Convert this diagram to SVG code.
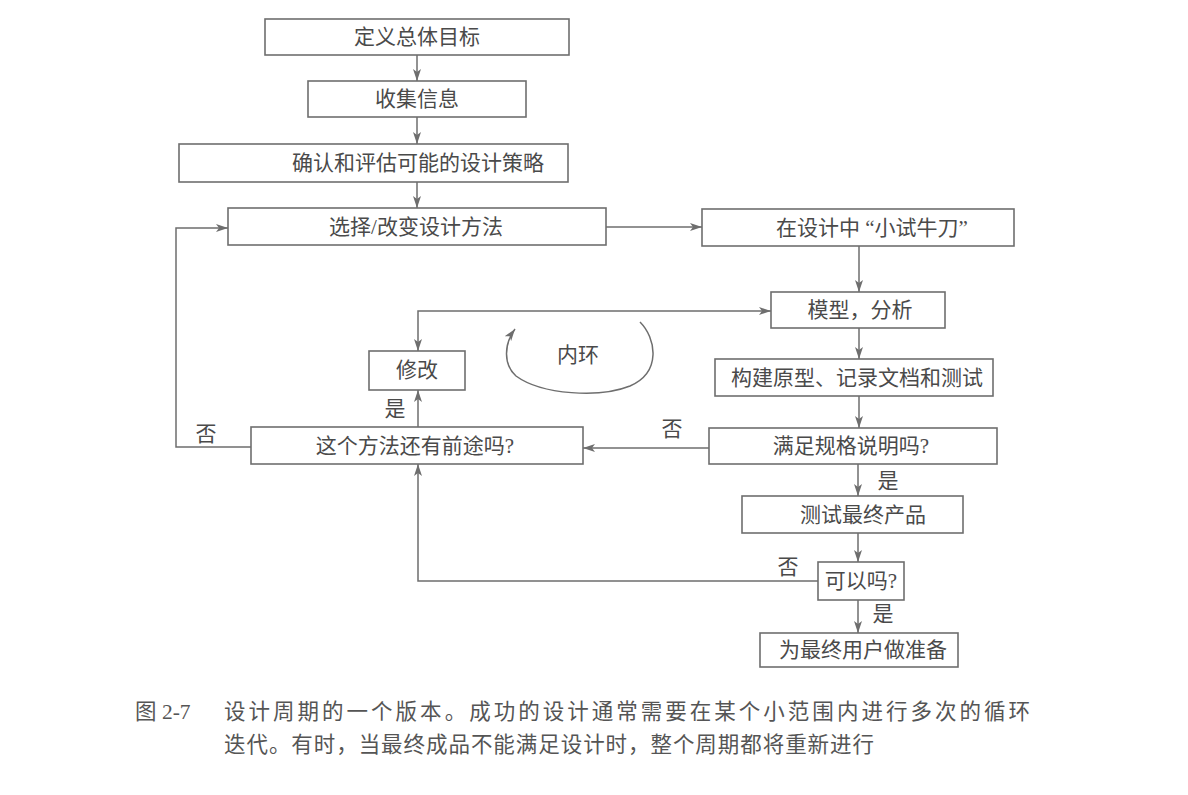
<svg xmlns="http://www.w3.org/2000/svg" width="1188" height="795" viewBox="0 0 1188 795">
<style>
.box{fill:#fff;stroke:#6e6e6e;stroke-width:1.6}
.t{font-family:"Liberation Serif","Noto Sans CJK SC",serif;font-size:21px;fill:#4a4a4a;text-anchor:middle;dominant-baseline:central}
.l{font-family:"Liberation Serif","Noto Sans CJK SC",serif;font-size:21px;fill:#4a4a4a;text-anchor:middle;dominant-baseline:central}
.cap{font-family:"Liberation Serif","Noto Sans CJK SC",serif;font-size:21.5px;fill:#555}
.c{fill:none;stroke:#6e6e6e;stroke-width:1.5}
</style>
<defs>
<marker id="ah" viewBox="0 0 12 8" refX="12" refY="4" markerWidth="12" markerHeight="8" markerUnits="userSpaceOnUse" orient="auto-start-reverse">
<path d="M0,0 L12,4 L0,8 L3,4 z" fill="#6e6e6e"/>
</marker>
</defs>
<rect width="1188" height="795" fill="#fff"/>
<g id="connectors">
<path class="c" d="M417,55 L417,81" marker-end="url(#ah)"/>
<path class="c" d="M417,117 L417,144" marker-end="url(#ah)"/>
<path class="c" d="M417,182 L417,208" marker-end="url(#ah)"/>
<path class="c" d="M606,227 L702,227" marker-end="url(#ah)"/>
<path class="c" d="M859,246 L859,292" marker-end="url(#ah)"/>
<path class="c" d="M859,328 L859,359" marker-end="url(#ah)"/>
<path class="c" d="M859,396 L859,428" marker-end="url(#ah)"/>
<path class="c" d="M709,448 L583,448" marker-end="url(#ah)"/>
<path class="c" d="M858,464 L858,496" marker-end="url(#ah)"/>
<path class="c" d="M858,533 L858,562" marker-end="url(#ah)"/>
<path class="c" d="M858,600 L858,633" marker-end="url(#ah)"/>
<path class="c" d="M818,581 L418,581 L418,464" marker-end="url(#ah)"/>
<path class="c" d="M418,427 L418,390" marker-end="url(#ah)"/>
<path class="c" d="M418,351 L418,311 L771,311" marker-start="url(#ah)" marker-end="url(#ah)"/>
<path class="c" d="M251,447 L176,447 L176,228 L228,228" marker-end="url(#ah)"/>
<path class="c" d="M640,322 C656,338 662,372 630,386 C600,398 542,395 516,376 C503,364 504,344 515,329" marker-end="url(#ah)"/>
</g>
<g id="n1"><rect class="box" x="265" y="19" width="304" height="36"/><text class="t" x="417" y="37">定义总体目标</text></g>
<g id="n2"><rect class="box" x="308" y="81" width="218" height="36"/><text class="t" x="417" y="99">收集信息</text></g>
<g id="n3"><rect class="box" x="179" y="144" width="389" height="38"/><text class="t" x="418" y="163">确认和评估可能的设计策略</text></g>
<g id="n4"><rect class="box" x="228" y="208" width="378" height="37"/><text class="t" x="416" y="227">选择/改变设计方法</text></g>
<g id="n5"><rect class="box" x="702" y="209" width="312" height="37"/><text class="t" x="872" y="228">在设计中 “小试牛刀”</text></g>
<g id="n6"><rect class="box" x="771" y="292" width="174" height="36"/><text class="t" x="860" y="310">模型，分析</text></g>
<g id="n7"><rect class="box" x="715" y="359" width="278" height="37"/><text class="t" x="857" y="378">构建原型、记录文档和测试</text></g>
<g id="n8"><rect class="box" x="709" y="428" width="288" height="36"/><text class="t" x="851" y="446">满足规格说明吗?</text></g>
<g id="n9"><rect class="box" x="742" y="496" width="221" height="37"/><text class="t" x="863" y="515">测试最终产品</text></g>
<g id="n10"><rect class="box" x="818" y="562" width="86" height="38"/><text class="t" x="861" y="581">可以吗?</text></g>
<g id="n11"><rect class="box" x="760" y="633" width="198" height="34"/><text class="t" x="863" y="650">为最终用户做准备</text></g>
<g id="n12"><rect class="box" x="369" y="351" width="96" height="39"/><text class="t" x="417" y="370">修改</text></g>
<g id="n13"><rect class="box" x="251" y="427" width="332" height="37"/><text class="t" x="415" y="446">这个方法还有前途吗?</text></g>
<g id="labels">
<text class="l" x="578" y="355">内环</text>
<text class="l" x="206" y="434">否</text>
<text class="l" x="395" y="409">是</text>
<text class="l" x="672" y="429">否</text>
<text class="l" x="888" y="481">是</text>
<text class="l" x="788" y="567">否</text>
<text class="l" x="883" y="614">是</text>
</g>
<g id="caption">
<text class="cap" x="135" y="719">图 2-7</text>
<text class="cap" x="224" y="719" textLength="806" lengthAdjust="spacing">设计周期的一个版本。成功的设计通常需要在某个小范围内进行多次的循环</text>
<text class="cap" x="224" y="752" textLength="650" lengthAdjust="spacing">迭代。有时，当最终成品不能满足设计时，整个周期都将重新进行</text>
</g>
</svg>
